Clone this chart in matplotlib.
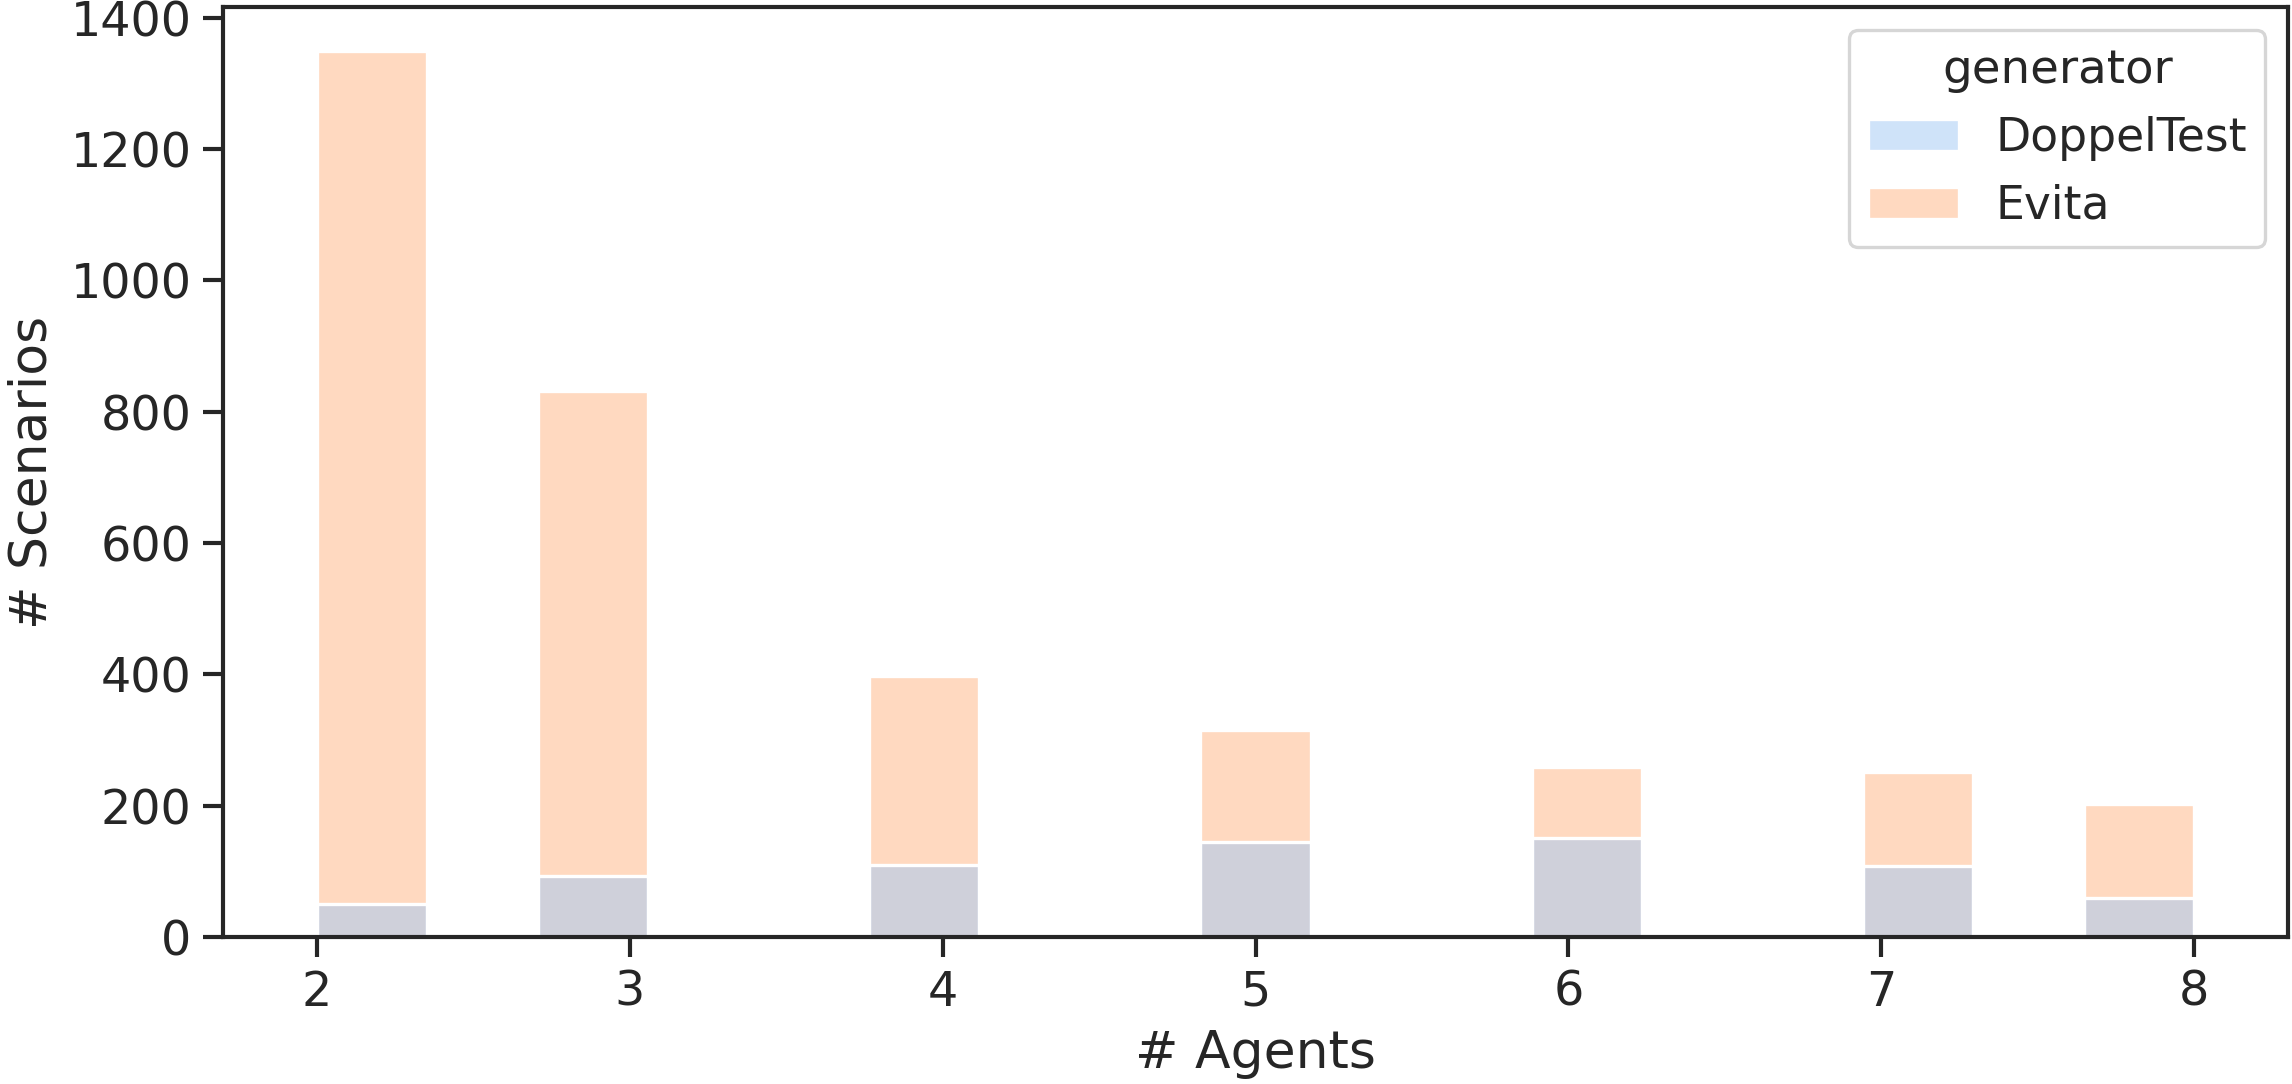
import numpy as np
import pandas as pd
import matplotlib
matplotlib.use("Agg")
import matplotlib.pyplot as plt
import seaborn as sns

# number of agents per scenario and how many scenarios each generator produced
agents = [2, 3, 4, 5, 6, 7, 8]
doppeltest = [51, 93, 109, 145, 151, 108, 59]
evita = [1349, 831, 397, 315, 259, 251, 203]
generators = ["DoppelTest", "Evita"]

df = pd.DataFrame({
    "agents": agents * 2,
    "count": doppeltest + evita,
    "generator": [generators[0]] * len(agents) + [generators[1]] * len(agents),
})

sns.set_theme(style="ticks", palette="pastel", font_scale=1.3)
plt.rcParams["legend.fontsize"] = 13.7
plt.rcParams["legend.title_fontsize"] = 14

fig = plt.figure(figsize=(2292 / 240, 1084 / 240), dpi=240)
ax = fig.add_axes([0.0973, 0.1356, 0.901, 0.858])

sns.histplot(data=df, x="agents", weights="count", hue="generator",
             hue_order=generators, bins=17, binrange=(2, 8), alpha=0.5, ax=ax)

ax.set_xlabel("# Agents")
ax.set_ylabel("# Scenarios")

fig.savefig("out.png", dpi=240)
